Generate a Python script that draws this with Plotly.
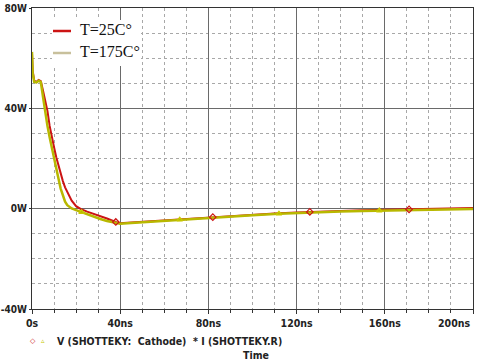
import plotly.graph_objects as go

# ---- data ----
t25 = [0, 0.3, 1, 2, 3, 4, 5, 6, 7, 8, 9, 10, 11, 12, 13, 14, 15, 16, 18, 20, 22, 25, 28, 31, 34, 38,
       40, 45, 50, 60, 70, 82, 90, 100, 110, 120, 126, 130, 140, 150, 160, 171, 180, 190, 200]
p25 = [62, 55, 51, 50.5, 51.3, 50.8, 47, 43.5, 39, 33, 28, 24.5, 20.5, 17, 13.8, 11, 8.5, 6.5, 3.2, 1.0, -0.1,
       -1.2, -2.0, -2.9, -3.9, -5.3, -5.8, -5.5, -5.2, -4.6, -4.1, -3.4, -2.9, -2.4, -1.9, -1.5, -1.3, -1.1,
       -0.85, -0.65, -0.45, -0.3, -0.15, 0.0, 0.25]
t175 = [0, 0.3, 1, 2, 3, 4, 5, 6, 7, 8, 9, 10, 11, 12, 13, 14, 15, 16, 17, 18, 20, 22.5, 25, 28, 31, 34, 37,
        40, 45, 50, 60, 67, 80, 90, 100, 112, 120, 130, 140, 150, 157.5, 170, 180, 190, 200]
p175 = [62.5, 54, 50.5, 50.3, 51, 50.5, 44.5, 38, 33, 28.5, 24, 19.5, 15.5, 12, 8, 5, 2.8, 1.4, 0.8, 0.1,
        -0.6, -1.4, -2.3, -3.3, -4.1, -4.9, -5.6, -6.0, -5.7, -5.4, -4.8, -4.4, -3.7, -3.1, -2.6, -2.0,
        -1.7, -1.4, -1.1, -0.9, -0.75, -0.5, -0.35, -0.25, -0.15]
marks25 = [38, 82, 126, 171]
marks175 = [22.5, 67, 112, 157.5]

x_tick_vals = [0, 40, 80, 120, 160, 200]
x_tick_text = ["0s", "40ns", "80ns", "120ns", "160ns", "200ns"]
y_tick_vals = [-40, 0, 40, 80]
y_tick_text = ["-40W", "0W", "40W", "80W"]
series_names = ["T=25C°", "T=175C°"]

RED = "#cc1414"
OLIVE = "#b8b800"
OLIVE_LEG = "#c8c09c"

tick_font = dict(family="Liberation Sans Narrow, DejaVu Sans Condensed, sans-serif",
                 size=10.5, color="#222222", weight="bold")
ytick_font = dict(tick_font, size=10)

fig = go.Figure()
fig.add_trace(go.Scatter(x=t25, y=p25, mode="lines", name=series_names[0],
                         line=dict(color=RED, width=2), showlegend=False))
fig.add_trace(go.Scatter(x=t175, y=p175, mode="lines", name=series_names[1],
                         line=dict(color=OLIVE, width=2.5), showlegend=False))
fig.add_trace(go.Scatter(x=[t for t in t25 if t in marks25],
                         y=[p for t, p in zip(t25, p25) if t in marks25],
                         mode="markers", showlegend=False, hoverinfo="skip",
                         marker=dict(symbol="diamond-open", size=5, color=RED, line=dict(width=1.2))))
fig.add_trace(go.Scatter(x=[t for t in t175 if t in marks175],
                         y=[p for t, p in zip(t175, p175) if t in marks175],
                         mode="markers", showlegend=False, hoverinfo="skip",
                         marker=dict(symbol="triangle-up-open", size=5, color="#c8c800", line=dict(width=1.2))))

W, H = 477, 362
L, R, T, B = 32, 4, 8, 53
pw, ph = W - L - R, H - T - B


def px(x):
    return (x - L) / pw


def py(y):
    return (H - B - y) / ph


# last x label is drawn as an annotation (it is shifted left to fit inside the window)
shown_x_text = x_tick_text[:-1] + [""]

fig.update_layout(
    width=W, height=H,
    margin=dict(l=L, r=R, t=T, b=B, autoexpand=False),
    paper_bgcolor="white", plot_bgcolor="white",
    showlegend=False,
    xaxis=dict(range=[0, 200], tickmode="array", tickvals=x_tick_vals, ticktext=shown_x_text,
               automargin=False,
               showgrid=True, gridcolor="#6a6a6a", gridwidth=1,
               showline=True, linecolor="#333333", linewidth=1, mirror=True,
               ticks="outside", ticklen=4, tickcolor="#333333", tickfont=tick_font,
               zeroline=False,
               minor=dict(dtick=10, tick0=0, showgrid=True, gridcolor="#a8a8a8", griddash="dot",
                          ticks="outside", ticklen=3, tickcolor="#333333")),
    yaxis=dict(range=[-40, 80], tickmode="array", tickvals=y_tick_vals, ticktext=y_tick_text,
               automargin=False, ticklabeloverflow="allow", ticklabelstandoff=0,
               showgrid=True, gridcolor="#6a6a6a", gridwidth=1,
               showline=True, linecolor="#333333", linewidth=1, mirror=True,
               ticks="outside", ticklen=2, tickcolor="#333333", tickfont=ytick_font,
               zeroline=False,
               minor=dict(dtick=10, tick0=0, showgrid=True, gridcolor="#a8a8a8", griddash="dot",
                          ticks="", ticklen=2)),
)

fig.add_annotation(x=px(472), y=py(323), xref="paper", yref="paper", text=x_tick_text[-1],
                   showarrow=False, xanchor="right", yanchor="middle", font=tick_font)

# in-plot legend box
fig.add_shape(type="rect", xref="paper", yref="paper",
              x0=px(52), x1=px(141), y0=py(66), y1=py(20),
              fillcolor="white", line=dict(width=0), layer="above")
fig.add_shape(type="line", xref="paper", yref="paper", x0=px(53), x1=px(71), y0=py(31), y1=py(31),
              line=dict(color=RED, width=2.5), layer="above")
fig.add_shape(type="line", xref="paper", yref="paper", x0=px(53), x1=px(71), y0=py(53), y1=py(53),
              line=dict(color=OLIVE_LEG, width=2.5), layer="above")
leg_font = dict(family="Liberation Serif, Times New Roman, serif", size=16, color="#111111")
fig.add_annotation(x=px(78), y=py(29), xref="paper", yref="paper", text=series_names[0],
                   showarrow=False, xanchor="left", yanchor="middle", font=leg_font)
fig.add_annotation(x=px(78), y=py(51), xref="paper", yref="paper", text=series_names[1],
                   showarrow=False, xanchor="left", yanchor="middle", font=leg_font)

# bottom trace label and axis title
fig.add_annotation(x=px(33), y=py(341), xref="paper", yref="paper", text="◇",
                   showarrow=False, xanchor="center", yanchor="middle",
                   font=dict(size=7, color=RED, family="DejaVu Sans"))
fig.add_annotation(x=px(43), y=py(341), xref="paper", yref="paper", text="▵",
                   showarrow=False, xanchor="center", yanchor="middle",
                   font=dict(size=7, color="#c8c800", family="DejaVu Sans"))
fig.add_annotation(x=px(55), y=py(341), xref="paper", yref="paper",
                   text="V (SHOTTEKY:  Cathode)  * I (SHOTTEKY.R)",
                   showarrow=False, xanchor="left", yanchor="middle", font=tick_font)
fig.add_annotation(x=px(256), y=py(355), xref="paper", yref="paper", text="Time",
                   showarrow=False, xanchor="center", yanchor="middle", font=tick_font)

fig.write_html("out.html", config={"displayModeBar": False},
               post_script="document.body.style.margin='0px';")
